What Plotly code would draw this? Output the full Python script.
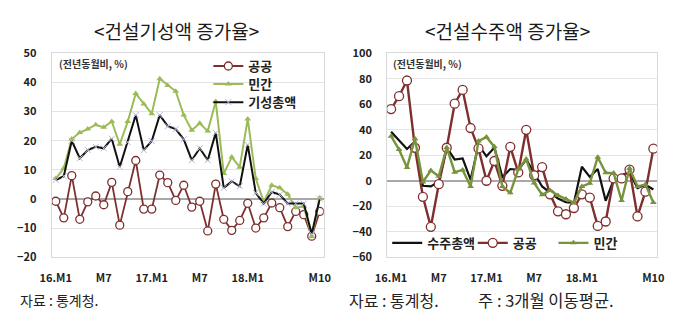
import plotly.graph_objects as go

# ---------------- data ----------------
months = [f"{y}.{m:02d}" for y in (16, 17, 18) for m in range(1, 13)][:34]
tick_vals = ["16.01", "16.07", "17.01", "17.07", "18.01", "18.10"]
tick_text = ["16.M1", "M7", "17.M1", "M7", "18.M1", "M10"]

# 건설기성액 증가율 (left)
gis_public = [-0.8, -6.5, 8, -7, -1, 1, -2, 5.7, -9, 2.5, 13.2, -3.5, -3.5, 8.2, 5.6, -0.5, 4.7,
              -2.8, -0.8, -11, 5.1, -7, -10.8, -7.4, -1.5, -10, -6.5, -1.4, -3, -9.5, -4.3, -5.4, -12.8, -4.3]
gis_private = [7, 10.5, 20.6, 22.8, 24, 25.5, 24.6, 26.6, 18.8, 26.6, 36.2, 32.6, 29.3, 41.3, 39, 37, 28.8,
               23.6, 26, 23.3, 33.5, 8.7, 14.4, 10.9, 27.5, 7, -1, 4.7, 3.8, 1.6, -3, -2.5, -13, 0.3]
gis_total = [6.5, 7.8, 20, 14, 16.8, 17.9, 17.4, 20.7, 11, 19.5, 28.8, 16.8, 19.9, 28.8, 25, 24, 20.5,
             13.3, 17.4, 13.3, 22.7, 3.8, 6, 4.4, 18.6, 2.1, -1.6, 2.4, 1.5, -1.6, -1.6, -1.6, -12, 0.1]

# 건설수주액 증가율 (right)
su_total = [38.5, 31.3, 24.9, 30.8, -4, -4.5, -0.7, 26, 16.7, 17.5, 0.8, 28, 19.2, 26, 3, 9.2, 8.5,
            16.7, 5.5, -4.5, -9.4, -13.9, -16.9, -17.4, 11, 3, 9.2, -15.7, 0.5, 4.3, 6.7, -5.7, -3.2, -6.9]
su_public = [56.3, 66.4, 78.7, 25.9, -12.6, -36.2, -2.7, 25.9, 60.5, 71.3, 41.4, 25.4, 0, 15.5, -4, 26.6, 6.5,
             40, 4.3, 10.7, -10.7, -24, -26.3, -21.4, -10.7, -13.2, -35.5, -32, 1.8, 1.8, 8.8, -28, -8.6, 25.2]
su_private = [35, 24.5, 10.4, 33, -1, 8, 3.5, 26.2, 6.7, 8.5, -4.5, 31.2, 34.3, 26.6, -4.5, -9.5, 9,
              17, -1.7, -11, -7.6, -11.5, -14.4, -17.2, -4.5, -2, 18.5, 6.3, 6, -15.5, 9.8, -4.5, -3, -17]

# ---------------- style ----------------
FONT = "Noto Sans CJK KR"
RED = "#7f2f2f"
GREEN_L = "#9bbb59"
GREEN_R = "#77933c"
GRID = "#e3e3e3"
ZERO = "#a8a8a8"
W, H = 680, 325

fig = go.Figure()

# left chart
fig.add_trace(go.Scatter(x=months, y=gis_public, name="공공", mode="lines+markers",
                         line=dict(color=RED, width=1.8),
                         marker=dict(symbol="circle", size=8, color="white",
                                     line=dict(color=RED, width=1.3)),
                         xaxis="x", yaxis="y", legend="legend"))
fig.add_trace(go.Scatter(x=months, y=gis_private, name="민간", mode="lines+markers",
                         line=dict(color=GREEN_L, width=2),
                         marker=dict(symbol="triangle-up", size=6, color=GREEN_L),
                         xaxis="x", yaxis="y", legend="legend3"))
fig.add_trace(go.Scatter(x=months, y=gis_total, name="기성총액", mode="lines+markers",
                         line=dict(color="#111111", width=2),
                         marker=dict(symbol="x-thin", size=6, color="#b8b8d8",
                                     line=dict(color="#b8b8d8", width=1)),
                         xaxis="x", yaxis="y", legend="legend4"))

# right chart
fig.add_trace(go.Scatter(x=months, y=su_total, name="수주총액", mode="lines",
                         line=dict(color="#111111", width=2.2),
                         xaxis="x2", yaxis="y2", legend="legend2"))
fig.add_trace(go.Scatter(x=months, y=su_public, name="공공", mode="lines+markers",
                         line=dict(color=RED, width=2.4),
                         marker=dict(symbol="circle", size=9, color="white",
                                     line=dict(color=RED, width=1.3)),
                         xaxis="x2", yaxis="y2", legend="legend5"))
fig.add_trace(go.Scatter(x=months, y=su_private, name="민간", mode="lines+markers",
                         line=dict(color=GREEN_R, width=2.4),
                         marker=dict(symbol="triangle-up", size=6, color=GREEN_R),
                         xaxis="x2", yaxis="y2", legend="legend6"))

ydom = [1 - 261 / H, 1 - 46.7 / H]
xdom1 = [40.9 / W, 320.7 / W]
xdom2 = [385.9 / W, 663.9 / W]

xcommon = dict(type="category", range=[-0.5, 33.5], tickvals=tick_vals, ticktext=tick_text,
               showgrid=False, zeroline=False, showline=True, linecolor="#d9d9d9", mirror=True,
               ticks="", tickfont=dict(family=FONT, size=11, color="#222", weight="bold"),
               ticklabelstandoff=11, fixedrange=True)
ycommon = dict(showgrid=True, gridcolor=GRID, gridwidth=1, zeroline=True, zerolinecolor=ZERO,
               zerolinewidth=1.5, showline=True, linecolor="#d9d9d9", mirror=True, ticks="",
               tickfont=dict(family=FONT, size=11, color="#222", weight="bold"),
               ticklabelstandoff=12, fixedrange=True)

LEG_OFF = 46  # distance from legend left edge to its text


def leg(text_x, center_y):
    return dict(x=(text_x - LEG_OFF) / W, y=1 - center_y / H, xanchor="left", yanchor="middle",
                bgcolor="rgba(0,0,0,0)", font=dict(family=FONT, size=13, color="#222", weight="bold"),
                itemwidth=30, orientation="v")


fig.update_layout(
    width=W, height=H, margin=dict(l=0, r=0, t=0, b=0),
    paper_bgcolor="white", plot_bgcolor="white",
    font=dict(family=FONT, color="#222"),
    xaxis=dict(domain=xdom1, anchor="y", **xcommon),
    yaxis=dict(domain=ydom, anchor="x", range=[-20, 50], dtick=10, **ycommon),
    xaxis2=dict(domain=xdom2, anchor="y2", **xcommon),
    yaxis2=dict(domain=ydom, anchor="x2", range=[-60, 100], dtick=20, **ycommon),
    legend=leg(248, 60),
    legend3=leg(248, 79),
    legend4=leg(248, 98),
    legend2=leg(432, 246),
    legend5=leg(520, 246),
    legend6=leg(603, 246),
    showlegend=True,
)

annotations = [
    dict(text="<건설기성액 증가율>", x=169 / W, y=1 - 23 / H, xref="paper", yref="paper",
         showarrow=False, font=dict(family=FONT, size=19, color="#1a1a1a"), xanchor="center", yanchor="middle"),
    dict(text="<건설수주액 증가율>", x=510 / W, y=1 - 23 / H, xref="paper", yref="paper",
         showarrow=False, font=dict(family=FONT, size=19, color="#1a1a1a"), xanchor="center", yanchor="middle"),
    dict(text="(전년동월비, %)", x=46 / W, y=1 - 57 / H, xref="paper", yref="paper",
         showarrow=False, font=dict(family=FONT, size=10, color="#333", weight="bold"),
         xanchor="left", yanchor="middle"),
    dict(text="(전년동월비, %)", x=390 / W, y=1 - 57 / H, xref="paper", yref="paper",
         showarrow=False, font=dict(family=FONT, size=10, color="#333", weight="bold"),
         xanchor="left", yanchor="middle"),
    dict(text="자료 : 통계청.", x=6 / W, y=1 - 306 / H, xref="paper", yref="paper",
         showarrow=False, font=dict(family=FONT, size=14, color="#222"), xanchor="left", yanchor="middle"),
    dict(text="자료 : 통계청.", x=345 / W, y=1 - 306 / H, xref="paper", yref="paper",
         showarrow=False, font=dict(family=FONT, size=16, color="#222"), xanchor="left", yanchor="middle"),
    dict(text="주 : 3개월 이동평균.", x=477 / W, y=1 - 306 / H, xref="paper", yref="paper",
         showarrow=False, font=dict(family=FONT, size=16.5, color="#222"), xanchor="left", yanchor="middle"),
]
fig.update_layout(annotations=annotations)

fig.write_html("out.html")
